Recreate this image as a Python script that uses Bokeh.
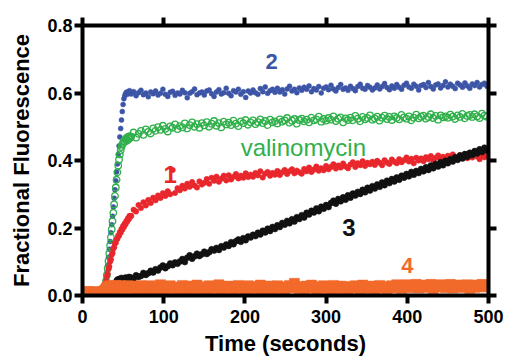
from bokeh.plotting import figure
from bokeh.models import LinearAxis, FixedTicker, Range1d, NumeralTickFormatter
from bokeh.embed import file_html
from bokeh.resources import INLINE
from bokeh.core.properties import value

# ---------------- data ----------------
# sampling times (s): every 2 s, every 1 s during the rise, every 3 s afterwards
time = list(range(0, 20, 2)) + list(range(20, 60)) + list(range(60, 500, 3))

blue = [
    0.014, 0.018, 0.012, 0.016, 0.013, 0.017, 0.015, 0.011, 0.016, 0.014,
    0.015, 0.013, 0.017, 0.016, 0.014, 0.018, 0.020, 0.026, 0.035, 0.050,
    0.068, 0.090, 0.113, 0.137, 0.160, 0.186, 0.210, 0.235, 0.262, 0.288,
    0.313, 0.340, 0.366, 0.390, 0.418, 0.443, 0.470, 0.495, 0.520, 0.545,
    0.566, 0.583, 0.592, 0.598, 0.602, 0.596, 0.604, 0.599, 0.607, 0.601,
    0.597, 0.604, 0.592, 0.601, 0.608, 0.595, 0.600, 0.589, 0.603, 0.598,
    0.606, 0.594, 0.599, 0.611, 0.596, 0.590, 0.602, 0.605, 0.593, 0.600,
    0.597, 0.608, 0.601, 0.586, 0.599, 0.604, 0.612, 0.595, 0.600, 0.603,
    0.594, 0.606, 0.609, 0.598, 0.590, 0.603, 0.610, 0.597, 0.601, 0.614,
    0.599, 0.592, 0.607, 0.603, 0.611, 0.596, 0.604, 0.587, 0.606, 0.600,
    0.609, 0.601, 0.596, 0.613, 0.604, 0.618, 0.599, 0.607, 0.611, 0.602,
    0.614, 0.603, 0.610, 0.597, 0.612, 0.620, 0.606, 0.611, 0.601, 0.615,
    0.608, 0.617, 0.611, 0.621, 0.604, 0.613, 0.609, 0.619, 0.600, 0.614,
    0.618, 0.610, 0.623, 0.612, 0.606, 0.616, 0.625, 0.611, 0.615, 0.608,
    0.620, 0.613, 0.607, 0.619, 0.626, 0.614, 0.611, 0.622, 0.617, 0.609,
    0.615, 0.624, 0.612, 0.619, 0.628, 0.616, 0.610, 0.621, 0.614, 0.625,
    0.617, 0.611, 0.623, 0.629, 0.618, 0.614, 0.626, 0.620, 0.609, 0.622,
    0.625, 0.616, 0.631, 0.619, 0.612, 0.624, 0.627, 0.615, 0.622, 0.633,
    0.618, 0.626, 0.620, 0.613, 0.629, 0.624, 0.617, 0.630, 0.621, 0.614,
    0.627, 0.622, 0.631, 0.618, 0.625, 0.629, 0.620,
]

green = [
    0.010, 0.013, 0.009, 0.014, 0.011, 0.012, 0.015, 0.010, 0.013, 0.011,
    0.012, 0.010, 0.014, 0.011, 0.013, 0.015, 0.018, 0.022, 0.030, 0.043,
    0.060, 0.080, 0.102, 0.125, 0.148, 0.172, 0.196, 0.220, 0.245, 0.270,
    0.295, 0.320, 0.343, 0.365, 0.385, 0.403, 0.418, 0.430, 0.440, 0.447,
    0.452, 0.458, 0.455, 0.462, 0.466, 0.459, 0.470, 0.464, 0.472, 0.468,
    0.471, 0.483, 0.468, 0.479, 0.488, 0.476, 0.492, 0.485, 0.480, 0.495,
    0.488, 0.499, 0.491, 0.503, 0.494, 0.486, 0.501, 0.497, 0.507, 0.493,
    0.502, 0.498, 0.510, 0.495, 0.505, 0.513, 0.500, 0.508, 0.497, 0.511,
    0.504, 0.514, 0.500, 0.509, 0.517, 0.503, 0.511, 0.498, 0.515, 0.507,
    0.512, 0.505, 0.518, 0.509, 0.502, 0.516, 0.511, 0.520, 0.506, 0.513,
    0.519, 0.508, 0.514, 0.522, 0.511, 0.517, 0.505, 0.521, 0.513, 0.516,
    0.510, 0.522, 0.515, 0.519, 0.526, 0.512, 0.518, 0.523, 0.509, 0.520,
    0.524, 0.516, 0.521, 0.513, 0.527, 0.519, 0.522, 0.530, 0.515, 0.523,
    0.518, 0.526, 0.521, 0.531, 0.517, 0.524, 0.528, 0.513, 0.525, 0.520,
    0.527, 0.519, 0.532, 0.524, 0.516, 0.529, 0.522, 0.526, 0.534, 0.521,
    0.525, 0.530, 0.518, 0.527, 0.533, 0.523, 0.529, 0.520, 0.531, 0.526,
    0.522, 0.535, 0.528, 0.524, 0.531, 0.519, 0.527, 0.536, 0.525, 0.530,
    0.533, 0.524, 0.529, 0.537, 0.526, 0.532, 0.521, 0.534, 0.528, 0.531,
    0.527, 0.536, 0.530, 0.523, 0.534, 0.529, 0.538, 0.525, 0.532, 0.535,
    0.529, 0.537, 0.531, 0.526, 0.539, 0.533, 0.530,
]

red = [
    0.012, 0.015, 0.010, 0.013, 0.016, 0.011, 0.014, 0.012, 0.015, 0.013,
    0.014, 0.012, 0.015, 0.013, 0.016, 0.014, 0.021, 0.024, 0.036, 0.042,
    0.057, 0.064, 0.079, 0.086, 0.101, 0.107, 0.121, 0.126, 0.139, 0.143,
    0.155, 0.156, 0.167, 0.168, 0.178, 0.177, 0.188, 0.186, 0.197, 0.195,
    0.206, 0.203, 0.213, 0.211, 0.221, 0.219, 0.229, 0.226, 0.236, 0.233,
    0.236, 0.254, 0.249, 0.268, 0.259, 0.276, 0.267, 0.283, 0.274, 0.290,
    0.282, 0.296, 0.289, 0.303, 0.295, 0.309, 0.300, 0.372, 0.304, 0.318,
    0.312, 0.325, 0.317, 0.331, 0.322, 0.336, 0.326, 0.320, 0.338, 0.329,
    0.334, 0.345, 0.331, 0.349, 0.340, 0.352, 0.337, 0.346, 0.355, 0.341,
    0.356, 0.344, 0.352, 0.360, 0.347, 0.355, 0.349, 0.362, 0.351, 0.358,
    0.352, 0.363, 0.356, 0.368, 0.350, 0.361, 0.366, 0.355, 0.363, 0.358,
    0.369, 0.357, 0.365, 0.372, 0.360, 0.368, 0.374, 0.362, 0.370, 0.365,
    0.361, 0.375, 0.368, 0.379, 0.366, 0.373, 0.382, 0.370, 0.377, 0.371,
    0.384, 0.374, 0.381, 0.389, 0.376, 0.385, 0.379, 0.391, 0.382, 0.377,
    0.388, 0.395, 0.381, 0.392, 0.386, 0.398, 0.384, 0.393, 0.389, 0.396,
    0.387, 0.399, 0.393, 0.386, 0.401, 0.394, 0.390, 0.403, 0.396, 0.392,
    0.404, 0.395, 0.401, 0.409, 0.397, 0.405, 0.392, 0.408, 0.400, 0.406,
    0.398, 0.410, 0.404, 0.413, 0.401, 0.408, 0.415, 0.403, 0.411, 0.406,
    0.414, 0.405, 0.418, 0.409, 0.402, 0.416, 0.411, 0.419, 0.407, 0.413,
    0.409, 0.420, 0.412, 0.404, 0.417, 0.410, 0.415,
]

# trace 3 starts at 42 s
black_start = 42
black = [
    0.043, 0.047, 0.041, 0.049, 0.044, 0.046, 0.052, 0.045, 0.048, 0.050,
    0.044, 0.053, 0.047, 0.051, 0.049, 0.055, 0.050, 0.054,
    0.052, 0.049, 0.060, 0.055, 0.058, 0.067, 0.061, 0.066, 0.073, 0.068,
    0.078, 0.074, 0.083, 0.089, 0.081, 0.087, 0.095, 0.090, 0.098, 0.094,
    0.101, 0.108, 0.099, 0.112, 0.119, 0.109, 0.116, 0.124, 0.117, 0.122,
    0.130, 0.123, 0.128, 0.137, 0.133, 0.141, 0.135, 0.146, 0.142, 0.151,
    0.147, 0.158, 0.152, 0.161, 0.166, 0.159, 0.170, 0.164, 0.175, 0.172,
    0.180, 0.176, 0.186, 0.181, 0.192, 0.187, 0.198, 0.191, 0.203, 0.197,
    0.208, 0.203, 0.215, 0.210, 0.221, 0.214, 0.226, 0.219, 0.232, 0.227,
    0.238, 0.231, 0.245, 0.240, 0.251, 0.246, 0.258, 0.250, 0.263, 0.257,
    0.268, 0.262, 0.274, 0.281, 0.272, 0.286, 0.279, 0.291, 0.284, 0.297,
    0.290, 0.302, 0.296, 0.307, 0.301, 0.313, 0.306, 0.319, 0.311, 0.324,
    0.317, 0.329, 0.322, 0.335, 0.327, 0.340, 0.333, 0.345, 0.338, 0.350,
    0.343, 0.355, 0.349, 0.360, 0.353, 0.366, 0.358, 0.369, 0.363, 0.375,
    0.368, 0.380, 0.372, 0.385, 0.377, 0.390, 0.382, 0.395, 0.386, 0.399,
    0.392, 0.404, 0.397, 0.410, 0.402, 0.415, 0.406, 0.419, 0.411, 0.423,
    0.416, 0.428, 0.421, 0.433, 0.425, 0.438, 0.430,
]

orange = [
    0.008, 0.011, 0.006, 0.010, 0.012, 0.007, 0.009, 0.011, 0.008, 0.010,
    0.009, 0.007, 0.011, 0.008, 0.010, 0.009, 0.012, 0.014, 0.017, 0.020,
    0.023, 0.027, 0.021, 0.025, 0.029, 0.022, 0.026, 0.024, 0.028, 0.021,
    0.025, 0.030, 0.023, 0.027, 0.022, 0.026, 0.024, 0.029, 0.021, 0.025,
    0.028, 0.023, 0.027, 0.024, 0.022, 0.026, 0.029, 0.023, 0.025, 0.027,
    0.021, 0.028, 0.015, 0.024, 0.030, 0.018, 0.025, 0.022, 0.029, 0.016,
    0.027, 0.020, 0.032, 0.023, 0.017, 0.026, 0.029, 0.021, 0.024, 0.019,
    0.025, 0.030, 0.018, 0.023, 0.028, 0.015, 0.024, 0.031, 0.020, 0.026,
    0.022, 0.017, 0.029, 0.024, 0.020, 0.027, 0.032, 0.019, 0.025, 0.021,
    0.028, 0.023, 0.016, 0.026, 0.030, 0.021, 0.024, 0.018, 0.029, 0.025,
    0.020, 0.027, 0.023, 0.031, 0.017, 0.025, 0.022, 0.028, 0.019, 0.024,
    0.029, 0.021, 0.026, 0.018, 0.024, 0.030, 0.023, 0.036, 0.027, 0.020,
    0.025, 0.018, 0.028, 0.022, 0.031, 0.024, 0.019, 0.027, 0.023, 0.029,
    0.021, 0.026, 0.017, 0.030, 0.024, 0.020, 0.028, 0.023, 0.025, 0.018,
    0.027, 0.022, 0.029, 0.024, 0.019, 0.031, 0.025, 0.021, 0.028, 0.023,
    0.018, 0.026, 0.030, 0.022, 0.027, 0.020, 0.024, 0.029, 0.023, 0.032,
    0.025, 0.021, 0.028, 0.032, 0.023, 0.030, 0.026, 0.033, 0.022, 0.029,
    0.031, 0.024, 0.027, 0.033, 0.020, 0.030, 0.025, 0.032, 0.028, 0.023,
    0.029, 0.033, 0.022, 0.027, 0.031, 0.024, 0.030, 0.026, 0.032, 0.021,
    0.028, 0.024, 0.031, 0.027, 0.033, 0.025, 0.030,
]

x_ticks = [0, 100, 200, 300, 400, 500]
y_ticks = [0.0, 0.2, 0.4, 0.6, 0.8]

trace_labels = ["1", "2", "3", "4"]
trace_label_x = [108, 233, 328, 400]
trace_label_y = [0.359, 0.693, 0.202, 0.089]

note_text = "valinomycin"
note_x = 272
note_y = 0.439

x_title = "Time (seconds)"
y_title = "Fractional Fluorescence"

# ---------------- checks ----------------
time_black = time[time.index(black_start):]
for name, arr, tt in [("blue", blue, time), ("green", green, time), ("red", red, time),
                      ("black", black, time_black), ("orange", orange, time)]:
    assert len(arr) == len(tt), f"{name}: {len(arr)} vs {len(tt)}"

# ---------------- styles ----------------
C_BLUE = "#3c55a6"
C_GREEN = "#2fb04a"
C_RED = "#e8272c"
C_BLACK = "#111111"
C_ORANGE = "#f26a2b"
FONT = "Liberation Sans"

p = figure(width=506, height=358, x_range=Range1d(0, 500), y_range=Range1d(0, 0.8),
           output_backend="svg", toolbar_location=None,
           min_border_left=82, min_border_right=18, min_border_top=25, min_border_bottom=63)
p.xgrid.visible = False
p.ygrid.visible = False
p.outline_line_color = None
p.background_fill_color = "white"
p.border_fill_color = "white"

bottom = p.below[0]
left = p.left[0]
top = LinearAxis()
right = LinearAxis()
p.add_layout(top, "above")
p.add_layout(right, "right")

for ax in (bottom, top):
    ax.ticker = FixedTicker(ticks=x_ticks)
for ax in (left, right):
    ax.ticker = FixedTicker(ticks=y_ticks)
    ax.formatter = NumeralTickFormatter(format="0.0")

for ax in (bottom, left, top, right):
    ax.axis_line_width = 4
    ax.axis_line_color = "black"
    ax.major_tick_line_width = 4
    ax.major_tick_line_color = "black"
    ax.major_tick_out = 8
    ax.major_tick_in = 0
    ax.minor_tick_out = 0
    ax.minor_tick_in = 0
    ax.major_label_text_font = FONT
    ax.major_label_text_font_style = "bold"
    ax.major_label_text_font_size = "18px"
    ax.major_label_text_color = "black"
    ax.axis_label_text_font = FONT
    ax.axis_label_text_font_style = "bold"
    ax.axis_label_text_font_size = "22px"
    ax.axis_label_text_color = "black"

# frame-only axes: ticks but no labels drawn
for ax in (top, right):
    ax.major_label_text_font_size = "1px"
    ax.major_label_text_color = None
    ax.major_label_standoff = 0

bottom.major_label_standoff = 6
left.major_label_standoff = 2
bottom.axis_label = x_title
left.axis_label = y_title
bottom.axis_label_standoff = 5
left.axis_label_standoff = 10

# ---------------- data marks ----------------
p.scatter(time, blue, marker="circle", size=5, fill_color=C_BLUE, line_color=C_BLUE, line_width=0.5)
p.scatter(time, green, marker="circle", size=6.5, fill_color=None, line_color=C_GREEN, line_width=1.3)
p.scatter(time, red, marker="circle", size=5.5, fill_color=C_RED, line_color=C_RED, line_width=0.5)
p.scatter(time_black, black, marker="circle", size=6, fill_color=C_BLACK, line_color=C_BLACK, line_width=0.5)
p.scatter(time, orange, marker="square", size=10, fill_color=C_ORANGE, line_color=C_ORANGE, line_width=0.5)

label_colors = [C_RED, C_BLUE, C_BLACK, C_ORANGE]
label_sizes = ["24px", "22px", "24px", "22px"]
for i in range(len(trace_labels)):
    p.text(x=[trace_label_x[i]], y=[trace_label_y[i]], text=[trace_labels[i]],
           text_font=value(FONT), text_font_style="bold", text_font_size=label_sizes[i],
           text_color=label_colors[i], text_align="center", text_baseline="middle")

p.text(x=[note_x], y=[note_y], text=[note_text], text_font=value(FONT),
       text_font_size="24px", text_color=C_GREEN, text_align="center",
       text_baseline="alphabetic")

open("out.html", "w").write(file_html(p, INLINE))
